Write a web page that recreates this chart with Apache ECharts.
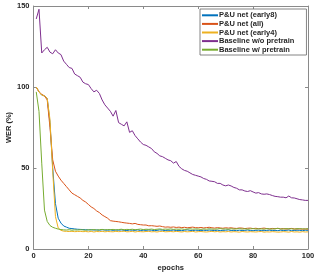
<!DOCTYPE html>
<html><head><meta charset="utf-8">
<script src="https://cdn.jsdelivr.net/npm/echarts@6/dist/echarts.min.js"></script>
<style>html,body{margin:0;padding:0;background:#fff}#c{width:317px;height:275px}</style>
</head><body><div id="c"></div>
<script>
const epochs = [1,2,3,4,5,6,7,8,9,10,11,12,13,14,15,16,17,18,19,20,21,22,23,24,25,26,27,28,29,30,31,32,33,34,35,36,37,38,39,40,41,42,43,44,45,46,47,48,49,50,51,52,53,54,55,56,57,58,59,60,61,62,63,64,65,66,67,68,69,70,71,72,73,74,75,76,77,78,79,80,81,82,83,84,85,86,87,88,89,90,91,92,93,94,95,96,97,98,99,100];
const seriesNames = ['P&U net (early8)','P&U net (all)','P&U net (early4)','Baseline w/o pretrain','Baseline w/ pretrain'];
const early8 = [100,97,95,94.5,93,78,50,28,19,16,14.2,13.5,12.8,12.6,12.4,12.2,12.1,12.0,11.9,11.8,
 11.9,11.7,11.8,11.6,11.9,11.7,11.6,11.8,11.5,11.7, 11.6,11.8,11.5,11.4,11.7,11.6,11.5,11.8,11.4,11.6,
 11.5,11.7,11.6,11.3,11.5,11.8,11.6,11.4,11.6,11.5, 11.7,11.4,11.5,11.3,11.6,11.8,11.5,11.4,11.6,11.5,
 11.3,11.6,11.4,11.7,11.5,11.4,11.6,11.3,11.5,11.6, 11.8,11.4,11.5,11.3,11.6,11.4,11.5,11.7,11.4,11.3,
 11.5,11.6,11.4,11.3,11.5,11.6,11.4,11.5,11.3,11.6, 11.4,11.5,11.7,11.3,11.4,11.6,11.5,11.3,11.6,11.5];
const allNet = [100,97,95.5,94.5,92,75,55,48,45,42.5, 40.5,38.5,36.5,34.5,33.5,32.5,31.5,30,29,27.5,
 26,25,23.5,22.5,21,20,19,17.5,17.2,17, 16.8,16.5,16.2,16,15.8,15.5,15.8,15.2,15,14.8,
 14.8,14.3,14.4,14.2,14,14.2,13.8,13.5,13.6,13.4, 13.6,13.3,13.5,13.2,13.4,13.1,13.3,13.5,13.2,13.1,
 13.3,13,13.2,13.4,13.1,12.9,13.2,13,12.8,13.1, 12.9,13.1,12.8,12.7,13,12.9,12.6,12.8,12.9,12.6,
 12.8,12.5,12.7,12.9,12.6,12.4,12.7,12.5,12.8,12.4, 12.6,12.3,12.5,12.7,12.4,12.3,12.5,12.2,12.4,12.2];
const early4 = [100,97,95,94.5,93,80,48,20,13,11.5, 11,10.9,10.8,10.9,10.7,10.8,10.9,10.7,10.8,10.6,
 10.9,10.5,10.8,10.7,10.9,10.6,10.8,10.7,10.6,10.9, 10.7,10.8,11,10.6,10.7,10.9,10.5,10.8,10.7,10.6,
 10.8,10.9,10.6,10.7,10.5,10.8,10.9,10.6,10.7,10.8, 10.6,10.9,10.7,10.5,10.8,10.6,10.7,10.9,10.5,10.7,
 10.8,10.6,10.5,10.7,10.9,10.6,10.8,10.5,10.7,10.6, 10.8,10.5,10.7,10.6,10.4,10.8,10.6,10.5,10.7,10.6,
 10.5,10.7,10.8,10.4,10.6,10.5,10.7,10.6,10.4,10.5, 10.7,10.6,10.4,10.8,10.5,10.6,10.4,10.7,10.5,10.6];
const noPretrain = [142,148,121,123,124.5,121.5,120.5,123,121,120, 116,114,112,111.5,108,107,106,103,102,101.5,
 99,97,98,96,92,89,87,85,82,85.5, 78,77,76,78.5,72,73,70,68,66,64.5,
 64,63,62,60,59,57.5,57,56,55,54.5, 53,54,51,49.5,48.5,48,47,46,45.5,45,
 44.5,43.5,43,42,41.8,41.5,40.5,40.5,39.5,39, 39.5,38.9,38,37.5,36.5,36.5,35.8,35.5,36,35.2,
 34.5,34.8,34,33.8,34,33.6,33,32.5,32.3,32, 32,31.6,32.7,31.6,31.5,31,30.5,30.3,30,30];
const withPretrain = [97,85,53,24,17,14.5,13.4,12.8,12.3,12, 11.8,11.7,11.9,11.6,11.8,11.7,11.9,11.8,11.6,11.9,
 11.8,12,11.7,11.9,12.1,11.8,12,11.9,12.1,11.8, 12,12.2,11.9,12.1,12,12.2,11.9,12.1,12.3,12,
 12.2,12.1,12.3,12,12.2,12.4,12.1,12.3,12.2,12.4, 12.1,12.3,12.2,12.4,12.1,12.3,12.5,12.2,12.4,12.3,
 12.1,12.4,12.2,12.5,12.3,12.2,12.4,12.6,12.3,12.4, 12.2,12.5,12.3,12.4,12.6,12.3,12.5,12.2,12.4,12.6,
 12.3,12.5,12.4,12.2,12.6,12.4,12.3,12.5,12.7,12.4, 12.3,12.6,12.4,12.5,12.2,12.6,12.4,12.5,12.3,12.6];

const colors = ['#0072BD','#D95319','#EDB120','#7E2F8E','#77AC30'];
const values = [early8, allNet, early4, noPretrain, withPretrain];
const axisColor = '#8a8a8a';
const labelStyle = {color:'#262626', fontSize:7.5, fontWeight:'bold', fontFamily:'Liberation Sans, Arial, sans-serif'};

const chart = echarts.init(document.getElementById('c'), null, {renderer:'canvas'});
chart.setOption({
  animation:false,
  grid:{left:33.5, right:9, top:6, bottom:26, show:false, containLabel:false, outerBoundsMode:'none'},
  legend:{
    data:seriesNames, orient:'vertical', left:200, top:9,
    itemWidth:16, itemHeight:2, itemGap:0, padding:[2,12,1,2],
    borderColor:'#666', borderWidth:0.8, backgroundColor:'#fff',
    icon:'rect',
    textStyle:Object.assign({}, labelStyle, {lineHeight:8.6, padding:[0,0,0,-4]})
  },
  xAxis:[{
    type:'value', min:0, max:100, interval:20,
    name:'epochs', nameLocation:'middle', nameGap:15, nameMoveOverlap:false,
    nameTextStyle:Object.assign({}, labelStyle),
    axisLine:{show:true, onZero:false, lineStyle:{color:axisColor, width:1}},
    axisTick:{show:true, inside:true, length:3, lineStyle:{color:axisColor}},
    axisLabel:Object.assign({margin:3}, labelStyle),
    splitLine:{show:false}
  },{
    type:'value', min:0, max:100, interval:20, position:'top',
    axisLine:{show:true, onZero:false, lineStyle:{color:axisColor, width:1}},
    axisTick:{show:true, inside:true, length:3, lineStyle:{color:axisColor}},
    axisLabel:{show:false}, splitLine:{show:false}
  }],
  yAxis:[{
    type:'value', min:0, max:150, interval:50,
    name:'WER (%)', nameLocation:'middle', nameGap:21, nameMoveOverlap:false,
    nameTextStyle:Object.assign({}, labelStyle),
    axisLine:{show:true, onZero:false, lineStyle:{color:axisColor, width:1}},
    axisTick:{show:true, inside:true, length:3, lineStyle:{color:axisColor}},
    axisLabel:Object.assign({margin:4}, labelStyle),
    splitLine:{show:false}
  },{
    type:'value', min:0, max:150, interval:50, position:'right',
    axisLine:{show:true, onZero:false, lineStyle:{color:axisColor, width:1}},
    axisTick:{show:true, inside:true, length:3, lineStyle:{color:axisColor}},
    axisLabel:{show:false}, splitLine:{show:false}
  }],
  series: seriesNames.map((n,i)=>({
    name:n, type:'line', xAxisIndex:0, yAxisIndex:0,
    data: epochs.map((e,j)=>[e, values[i][j]]),
    showSymbol:false, symbol:'none',
    lineStyle:{color:colors[i], width:1},
    itemStyle:{color:colors[i]}
  }))
});
</script></body></html>
